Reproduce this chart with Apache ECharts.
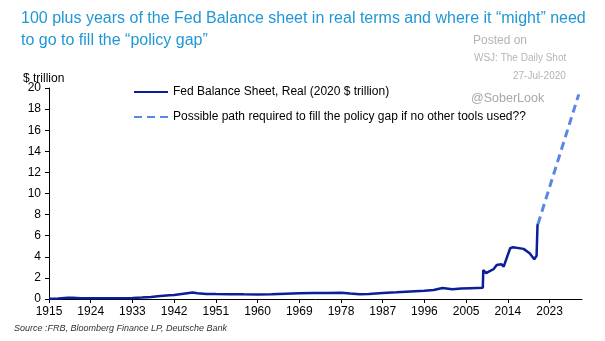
<!DOCTYPE html>
<html><head><meta charset="utf-8">
<script src="https://cdn.jsdelivr.net/npm/echarts@6/dist/echarts.min.js"></script>
<style>html,body{margin:0;padding:0;background:#fff}#c{width:605px;height:341px}</style>
</head><body><div id="c"></div>
<script>
const years = [1915,1917,1919,1920,1922,1925,1928,1931,1933,1935,1937,1939,1941,1942,1944,1946,1947,1949,1951,1954,1957,1960,1963,1966,1969,1972,1975,1978,1980,1982,1984,1987,1990,1993,1996,1998,1999.9,2000.2,2002,2004,2006,2008.6,2008.7,2009.3,2010.2,2010.9,2011.6,2012.6,2013.1,2014.5,2015.1,2017.4,2018.7,2019.7,2020.2,2020.4,2020.5];
const fedReal = [0.02,0.05,0.12,0.12,0.06,0.06,0.07,0.07,0.1,0.14,0.2,0.28,0.35,0.38,0.5,0.62,0.55,0.48,0.47,0.46,0.44,0.43,0.46,0.5,0.54,0.56,0.57,0.6,0.52,0.45,0.47,0.58,0.63,0.72,0.79,0.85,1.05,0.88,0.92,1.0,1.03,1.07,2.75,2.45,2.66,2.82,3.23,3.3,3.07,4.81,4.9,4.75,4.34,3.77,4.1,7.0,7.1];
const pathYears = [2020.5, 2029.3];
const pathValues = [7.1, 19.4];
const xTicks = [1915,1924,1933,1942,1951,1960,1969,1978,1987,1996,2005,2014,2023];
const seriesNames = ['Fed Balance Sheet, Real (2020 $ trillion)','Possible path required to fill the policy gap if no other tools used??'];

const chart = echarts.init(document.getElementById('c'));
const FONT = 'Liberation Sans, Arial, sans-serif';
chart.setOption({
  animation: false,
  textStyle: {fontFamily: FONT},
  grid: {left: 49, right: 23, top: 88, bottom: 42},
  xAxis: {
    type: 'value', min: 1915, max: 2030,
    axisLine: {show: true, lineStyle: {color: '#000', width: 1}},
    axisTick: {show: true, length: 4, lineStyle: {color: '#000'}, customValues: xTicks},
    axisLabel: {color: '#000', fontSize: 12, margin: 7, customValues: xTicks, formatter: v => String(v)},
    splitLine: {show: false}
  },
  yAxis: {
    type: 'value', min: 0, max: 20, interval: 2,
    axisLine: {show: true, lineStyle: {color: '#000', width: 1}},
    axisTick: {show: true, length: 4, lineStyle: {color: '#000'}},
    axisLabel: {color: '#000', fontSize: 12, margin: 8},
    splitLine: {show: false}
  },
  legend: {
    orient: 'vertical', left: 133, top: 86, padding: 0, itemWidth: 34, itemHeight: 10, itemGap: 13,
    itemStyle: {opacity: 0},
    textStyle: {color: '#000', fontSize: 12, fontFamily: FONT},
    data: seriesNames
  },
  graphic: [
    {type: 'text', left: 21, top: 8, style: {text: '100 plus years of the Fed Balance sheet in real terms and where it “might” need\nto go to fill the “policy gap”', fill: '#1f97d6', font: '16px ' + FONT, lineHeight: 22}},
    {type: 'text', left: 23, top: 73, style: {text: '$ trillion', fill: '#000', font: '12px ' + FONT}},
    {type: 'text', left: 473, top: 35, style: {text: 'Posted on', fill: '#b4b4b4', font: '12px ' + FONT}},
    {type: 'text', left: 474, top: 53, style: {text: 'WSJ: The Daily Shot', fill: '#b4b4b4', font: '10px ' + FONT}},
    {type: 'text', left: 513, top: 71, style: {text: '27-Jul-2020', fill: '#b4b4b4', font: '10px ' + FONT}},
    {type: 'text', left: 471, top: 92, style: {text: '@SoberLook', fill: '#a8a8a8', font: '12.5px ' + FONT}},
    {type: 'text', left: 14, top: 324, style: {text: 'Source :FRB, Bloomberg Finance LP, Deutsche Bank', fill: '#333', font: 'italic 9px ' + FONT}}
  ],
  series: [
    {name: seriesNames[0], type: 'line', showSymbol: false, symbol: 'none',
     lineStyle: {color: '#0b1f99', width: 2.5}, itemStyle: {color: '#0b1f99'},
     data: years.map((y, i) => [y, fedReal[i]])},
    {name: seriesNames[1], type: 'line', showSymbol: false, symbol: 'none',
     lineStyle: {color: '#5a86e8', width: 3, type: [8, 5]}, itemStyle: {color: '#5a86e8'},
     data: pathYears.map((y, i) => [y, pathValues[i]])}
  ]
});
</script></body></html>
